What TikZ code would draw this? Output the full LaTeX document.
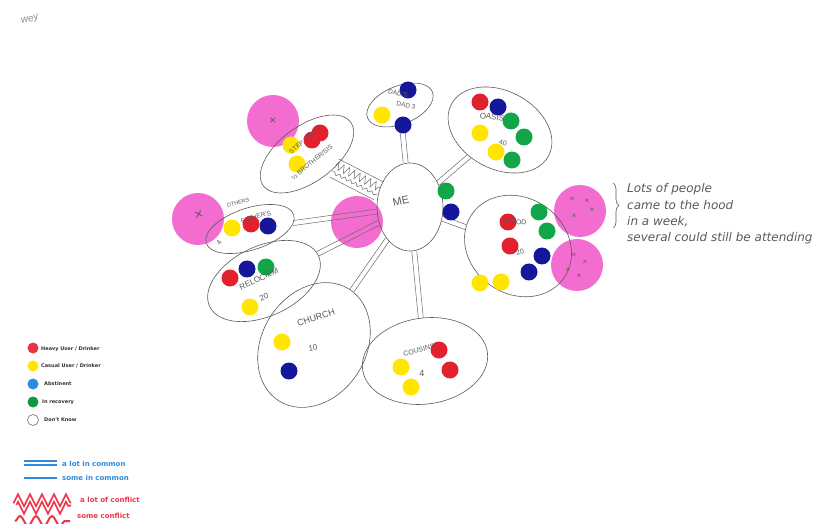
\documentclass[tikz,border=0pt]{standalone}
\usepackage{fontspec}
\setmainfont{Liberation Sans}
\newfontfamily\legfont{DejaVu Sans}
\newfontfamily\notefont{DejaVu Sans}
\usetikzlibrary{shapes.geometric,decorations.pathmorphing,decorations.pathreplacing,calc}
\definecolor{dred}{HTML}{E3202E}
\definecolor{dyel}{HTML}{FFE500}
\definecolor{dblu}{HTML}{15179A}
\definecolor{dgrn}{HTML}{12A64A}
\definecolor{dpink}{HTML}{F36DD0}
\definecolor{pen}{HTML}{5A5A5A}
\definecolor{lblue}{HTML}{2C8BE0}
\definecolor{lred}{HTML}{EC3548}
\newcommand\twolines[4]{%
  \draw[gl,transform canvas={shift={(#3,#4)}}] (#1) -- (#2);
  \draw[gl,transform canvas={shift={({-1*(#3)},{-1*(#4)})}}] (#1) -- (#2);}
\begin{document}
\begin{tikzpicture}[x=1pt,y=-1pt,
  grp/.style={draw=pen, line width=0.6pt, ellipse, inner sep=0pt},
  gl/.style={draw=pen!90, line width=0.5pt},
  dot/.style={circle, minimum size=17pt, inner sep=0pt},
  pinkc/.style={circle, fill=dpink, minimum size=52pt, inner sep=0pt},
  hw/.style={text=pen, font=\fontsize{8}{9}\selectfont, inner sep=0pt},
  legdot/.style={circle, minimum size=11pt, inner sep=0pt},
  legtxt/.style={anchor=west, inner sep=0pt, font=\legfont\bfseries\fontsize{5}{6}\selectfont, text=black!80},
  keytxt/.style={anchor=west, inner sep=0pt, font=\legfont\bfseries\fontsize{7}{8}\selectfont}]
\useasboundingbox[fill=white] (0,0) rectangle (839,524);

% top-left scribble
\node[hw, rotate=15, font=\itshape\fontsize{10}{11}\selectfont, text=black!45] (scr) at (30,20) {wey};

% pink circles
\node[pinkc] (pk1) at (273,121) {};
\node[pinkc] (pk2) at (198,219) {};
\node[pinkc] (pk3) at (357,222) {};
\node[pinkc] (pk4) at (580,211) {};
\node[pinkc] (pk5) at (577,265) {};

% group ellipses
\node[grp, minimum width=66pt, minimum height=88pt] (me) at (410,207) {};
\node[grp, minimum width=70pt, minimum height=38pt, rotate=22] (dad) at (400,105) {};
\node[grp, minimum width=108pt, minimum height=56pt, rotate=36] (step) at (307,154) {};
\node[grp, minimum width=92pt, minimum height=42pt, rotate=18] (oth) at (250,229) {};
\node[grp, minimum width=120pt, minimum height=70pt, rotate=25] (rel) at (264,281) {};
\node[grp, minimum width=132pt, minimum height=104pt, rotate=58] (chu) at (314,345) {};
\node[grp, minimum width=126pt, minimum height=86pt, rotate=8] (cou) at (425,361) {};
\node[grp, minimum width=110pt, minimum height=78pt, rotate=-28] (oas) at (500,130) {};
\node[grp, minimum width=112pt, minimum height=96pt, rotate=-35] (hood) at (518,246) {};

% connectors
\twolines{me}{dad}{2.5}{0}
\twolines{me}{oas}{1.6}{1.9}
\twolines{me}{hood}{-0.8}{2.4}
\twolines{me}{cou}{2.5}{0}
\twolines{me}{chu}{2}{1.4}
\twolines{me}{rel}{1.1}{2.2}
\twolines{me}{oth}{0}{2.5}
% conflict band to step family
\draw[gl,transform canvas={shift={(4.6,-9)}}] (step) -- (me);
\draw[gl,transform canvas={shift={(-4.6,9)}}] (step) -- (me);
\draw[gl, decorate, decoration={zigzag, amplitude=4pt, segment length=6pt},
      transform canvas={shift={(1.5,-3)}}] (step) -- (me);
\draw[gl, decorate, decoration={snake, amplitude=1.5pt, segment length=6pt},
      transform canvas={shift={(-2,4)}}] (step) -- (me);

% coloured dots
\node[dot, fill=dgrn] (d1) at (446,191) {};
\node[dot, fill=dblu] (d2) at (451,212) {};
\node[dot, fill=dblu] (d3) at (408,90) {};
\node[dot, fill=dyel] (d4) at (382,115) {};
\node[dot, fill=dblu] (d5) at (403,125) {};
\node[dot, fill=dred] (d6) at (320,133) {};
\node[dot, fill=dred] (d7) at (312,140) {};
\node[dot, fill=dyel] (d8) at (291,145) {};
\node[dot, fill=dyel] (d9) at (297,164) {};
\node[dot, fill=dyel] (d10) at (232,228) {};
\node[dot, fill=dred] (d11) at (251,224) {};
\node[dot, fill=dblu] (d12) at (268,226) {};
\node[dot, fill=dred] (d13) at (230,278) {};
\node[dot, fill=dblu] (d14) at (247,269) {};
\node[dot, fill=dgrn] (d15) at (266,267) {};
\node[dot, fill=dyel] (d16) at (250,307) {};
\node[dot, fill=dyel] (d17) at (282,342) {};
\node[dot, fill=dblu] (d18) at (289,371) {};
\node[dot, fill=dred] (d19) at (439,350) {};
\node[dot, fill=dred] (d20) at (450,370) {};
\node[dot, fill=dyel] (d21) at (401,367) {};
\node[dot, fill=dyel] (d22) at (411,387) {};
\node[dot, fill=dred] (d23) at (480,102) {};
\node[dot, fill=dblu] (d24) at (498,107) {};
\node[dot, fill=dgrn] (d25) at (511,121) {};
\node[dot, fill=dgrn] (d26) at (524,137) {};
\node[dot, fill=dgrn] (d27) at (512,160) {};
\node[dot, fill=dyel] (d28) at (480,133) {};
\node[dot, fill=dyel] (d29) at (496,152) {};
\node[dot, fill=dgrn] (d30) at (539,212) {};
\node[dot, fill=dgrn] (d31) at (547,231) {};
\node[dot, fill=dred] (d32) at (508,222) {};
\node[dot, fill=dred] (d33) at (510,246) {};
\node[dot, fill=dblu] (d34) at (542,256) {};
\node[dot, fill=dblu] (d35) at (529,272) {};
\node[dot, fill=dyel] (d36) at (480,283) {};
\node[dot, fill=dyel] (d37) at (501,282) {};

% X marks on pink circles
\node[hw, font=\fontsize{12}{13}\selectfont] (x1) at (273,121) {×};
\node[hw, font=\fontsize{15}{16}\selectfont, rotate=15] (x2) at (199,215) {×};
\node[hw, font=\fontsize{8}{9}\selectfont] (x3) at (572,199) {×};
\node[hw, font=\fontsize{8}{9}\selectfont] (x4) at (587,201) {×};
\node[hw, font=\fontsize{8}{9}\selectfont] (x5) at (592,210) {×};
\node[hw, font=\fontsize{8}{9}\selectfont] (x6) at (574,216) {×};
\node[hw, font=\fontsize{8}{9}\selectfont] (x7) at (574,255) {×};
\node[hw, font=\fontsize{8}{9}\selectfont] (x8) at (585,262) {×};
\node[hw, font=\fontsize{8}{9}\selectfont] (x9) at (568,270) {×};
\node[hw, font=\fontsize{8}{9}\selectfont] (x10) at (579,276) {×};

% labels (written over the dots, as in the hand drawing)
\node[hw, rotate=12, font=\fontsize{11}{12}\selectfont] (tme) at (401,201) {ME};
\node[hw, rotate=-12, font=\fontsize{6.5}{7}\selectfont] (tdad) at (398,93) {DAD'S};
\node[hw, rotate=-12, font=\fontsize{6.5}{7}\selectfont] (tdad2) at (406,105) {DAD 3};
\node[hw, rotate=40, font=\fontsize{6.5}{7}\selectfont] (tstep) at (305,140) {STEP FAM\enspace 4};
\node[hw, rotate=40, font=\fontsize{6.5}{7}\selectfont] (tstep2) at (312,162) {½ BROTHER/SIS};
\node[hw, rotate=15, font=\fontsize{5.5}{6}\selectfont] (toth) at (238,203) {OTHERS};
\node[hw, rotate=15, font=\fontsize{6.5}{7}\selectfont] (toth2) at (256,217) {FATHER'S};
\node[hw, rotate=60, font=\fontsize{7}{8}\selectfont] (toth3) at (219,243) {4};
\node[hw, rotate=25, font=\fontsize{8}{9}\selectfont] (trel) at (259,279) {RELOCIEM};
\node[hw, rotate=25, font=\fontsize{8}{9}\selectfont] (trel2) at (264,297) {20};
\node[hw, rotate=18, font=\fontsize{9}{10}\selectfont] (tchu) at (316,318) {CHURCH};
\node[hw, rotate=10, font=\fontsize{8}{9}\selectfont] (tchu2) at (313,348) {10};
\node[hw, rotate=15, font=\fontsize{7}{8}\selectfont] (tcou) at (419,350) {COUSINS};
\node[hw, font=\fontsize{9}{10}\selectfont] (tcou2) at (422,373) {4};
\node[hw, rotate=-8, font=\fontsize{8}{9}\selectfont] (toas) at (492,117) {OASIS};
\node[hw, rotate=-8, font=\fontsize{7}{8}\selectfont] (toas2) at (503,143) {40};
\node[hw, rotate=-5, font=\fontsize{7}{8}\selectfont] (thood) at (516,222) {HOOD};
\node[hw, rotate=20, font=\fontsize{7}{8}\selectfont] (thood2) at (520,252) {20};

% annotation
\draw[pen, line width=0.6pt, decorate, decoration={brace, amplitude=6pt}] (613,183) -- (613,228);
\node[hw, anchor=west, align=left, font=\notefont\itshape\fontsize{12}{16.3}\selectfont] (note) at (627,214)
  {Lots of people\\came to the hood\\in a week,\\several could still be attending};

% legend
\node[legdot, fill=dred!90] (l1) at (33,348) {};
\node[legdot, fill=dyel] (l2) at (33,366) {};
\node[legdot, fill=lblue] (l3) at (33,384) {};
\node[legdot, fill=dgrn!90!black] (l4) at (33,402) {};
\node[legdot, draw=black!55, line width=0.6pt, fill=white] (l5) at (33,420) {};
\node[legtxt] (lt1) at (41,349) {Heavy User / Drinker};
\node[legtxt] (lt2) at (41,366) {Casual User / Drinker};
\node[legtxt] (lt3) at (44,384) {Abstinent};
\node[legtxt] (lt4) at (42,402) {In recovery};
\node[legtxt] (lt5) at (44,420) {Don't Know};

\coordinate (k1a) at (24,463); \coordinate (k1b) at (57,463);
\draw[lblue, line width=2pt, double=white, double distance=1.2pt] (k1a) -- (k1b);
\node[keytxt, text=lblue] (kt1) at (62,464) {a lot in common};
\coordinate (k2a) at (24,478); \coordinate (k2b) at (57,478);
\draw[lblue, line width=2pt] (k2a) -- (k2b);
\node[keytxt, text=lblue] (kt2) at (62,478) {some in common};
\coordinate (k3a) at (15,504); \coordinate (k3b) at (71,504);
\draw[lred, line width=1.8pt, double=white, double distance=1.4pt, decorate,
      decoration={zigzag, amplitude=6pt, segment length=12pt}] (k3a) -- (k3b);
\node[keytxt, text=lred] (kt3) at (80,500) {a lot of conflict};
\coordinate (k4a) at (15,521); \coordinate (k4b) at (70,521);
\draw[lred, line width=2pt, decorate,
      decoration={snake, amplitude=5pt, segment length=16pt}] (k4a) -- (k4b);
\node[keytxt, text=lred] (kt4) at (77,516) {some conflict};
\end{tikzpicture}
\end{document}
